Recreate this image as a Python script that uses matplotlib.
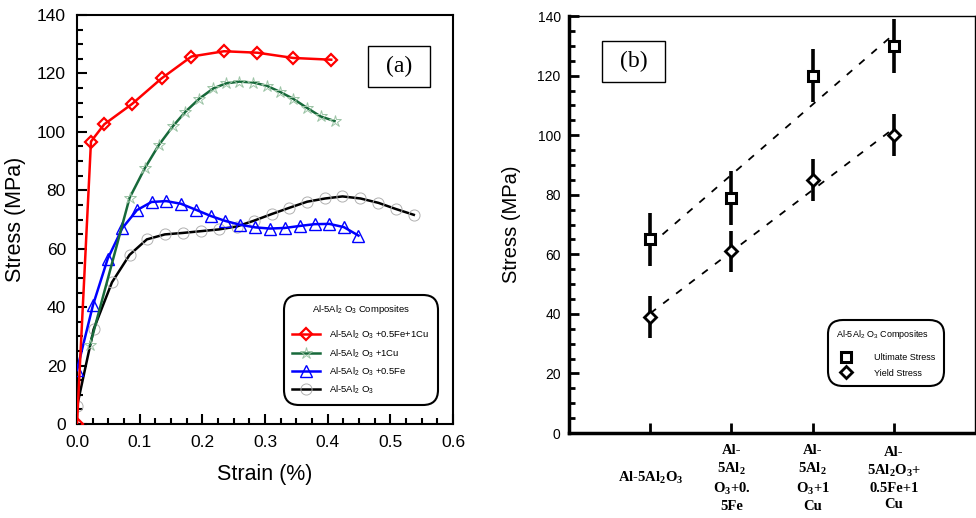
import matplotlib
matplotlib.use("Agg")
import matplotlib.pyplot as plt
from matplotlib.lines import Line2D
from matplotlib.patches import Rectangle
from matplotlib.ticker import MultipleLocator, FormatStrFormatter
import numpy as np

plt.rcParams['font.family'] = ['Liberation Sans', 'DejaVu Sans']
plt.rcParams['mathtext.fontset'] = 'custom'
plt.rcParams['mathtext.rm'] = 'Liberation Sans'
plt.rcParams['mathtext.it'] = 'Liberation Sans'
plt.rcParams['mathtext.bf'] = 'Liberation Serif:bold'

# ---- (a) stress-strain curves ----
red_strain = [0.0, 0.0223, 0.0435, 0.0881, 0.1349, 0.1827, 0.2347, 0.2878, 0.3452, 0.4057]
red_stress = [0.0, 96.7, 102.6, 109.6, 118.3, 125.8, 127.6, 127.1, 125.3, 124.7]

green_strain = [0.0207, 0.0839, 0.1083, 0.1306, 0.1529, 0.1731, 0.1954, 0.2177, 0.2379,
                0.2591, 0.2814, 0.3027, 0.3239, 0.3452, 0.3664, 0.3887, 0.4110]
green_stress = [27.0, 77.4, 87.6, 95.5, 101.9, 106.9, 111.4, 114.9, 116.6,
                117.2, 116.9, 115.8, 113.7, 111.3, 108.3, 105.3, 103.7]

blue_strain = [0.0, 0.0255, 0.0489, 0.0722, 0.0956, 0.1189, 0.1423, 0.1657, 0.1901, 0.2135,
               0.2368, 0.2602, 0.2846, 0.3080, 0.3313, 0.3558, 0.3791, 0.4025, 0.4258, 0.4492]
blue_stress = [18.5, 40.7, 56.5, 67.0, 73.2, 76.0, 76.3, 75.4, 73.3, 71.2,
               69.5, 68.2, 67.3, 66.9, 67.1, 67.8, 68.4, 68.5, 67.4, 64.5]

black_strain = [0.0, 0.0265, 0.0558, 0.0839, 0.1115, 0.1402, 0.1688, 0.1975, 0.2262, 0.2549,
                0.2825, 0.3112, 0.3388, 0.3674, 0.3961, 0.4237, 0.4524, 0.4811, 0.5088, 0.5375]
black_stress = [6.0, 32.4, 48.5, 57.9, 63.2, 64.9, 65.4, 66.0, 66.6, 67.6,
                69.6, 71.9, 74.0, 76.1, 77.2, 77.9, 77.2, 75.7, 73.6, 71.6]

# ---- (b) ultimate / yield stress per composite ----
categories = [r'Al-5Al$_\mathbf{2}$O$_\mathbf{3}$',
              'Al-\n' + r'5Al$_\mathbf{2}$' + '\n' + r'O$_\mathbf{3}$+0.' + '\n5Fe',
              'Al-\n' + r'5Al$_\mathbf{2}$' + '\n' + r'O$_\mathbf{3}$+1' + '\nCu',
              'Al-\n' + r'5Al$_\mathbf{2}$O$_\mathbf{3}$+' + '\n0.5Fe+1\nCu']
cat_pos = [1, 2, 3, 4]
ultimate = [65, 79, 120, 130]
ultimate_err = [9, 9, 9, 9]
yield_s = [39, 61, 85, 100]
yield_err = [7, 7, 7, 7]

fig = plt.figure(figsize=(9.76, 5.18), dpi=100)
ax1 = fig.add_axes([0.0789, 0.1815, 0.3852, 0.7895])
ax2 = fig.add_axes([0.583, 0.164, 0.416, 0.805])

# panel (a)
ax1.plot(black_strain, black_stress, '-', color='black', lw=1.8, marker='o', ms=8,
         mfc='none', mec='#b0b0b0', mew=0.7, label=r'Al-5Al$_2$ O$_3$', zorder=2)
ax1.plot(blue_strain, blue_stress, '-', color='#0000ff', lw=1.8, marker='^', ms=9,
         mfc='none', mec='#0000ff', mew=1.0, label=r'Al-5Al$_2$ O$_3$ +0.5Fe', zorder=3)
ax1.plot(green_strain, green_stress, '-', color='#17693a', lw=1.8, marker='*', ms=9,
         mfc='none', mec='#9cc4a6', mew=0.7, label=r'Al-5Al$_2$ O$_3$ +1Cu', zorder=4)
ax1.plot(red_strain, red_stress, '-', color='#ff0000', lw=1.8, marker='D', ms=6,
         mfc='none', mec='#ff0000', mew=1.6, label=r'Al-5Al$_2$ O$_3$ +0.5Fe+1Cu', zorder=5)

ax1.set_xlim(0, 0.6)
ax1.set_ylim(0, 140)
ax1.xaxis.set_major_locator(MultipleLocator(0.1))
ax1.xaxis.set_minor_locator(MultipleLocator(0.025))
ax1.yaxis.set_major_locator(MultipleLocator(20))
ax1.yaxis.set_minor_locator(MultipleLocator(5))
ax1.xaxis.set_major_formatter(FormatStrFormatter('%.1f'))
ax1.tick_params(which='both', direction='in', top=False, right=False, width=1.5, labelsize=12.5)
ax1.tick_params(which='major', length=7, pad=8)
ax1.tick_params(which='minor', length=4.5)
for s in ax1.spines.values():
    s.set_linewidth(1.5)
ax1.set_xlabel('Strain (%)', fontsize=15.5, labelpad=10)
ax1.set_ylabel('Stress (MPa)', fontsize=15.5, labelpad=8)

h, l = ax1.get_legend_handles_labels()
leg1 = ax1.legend(h[::-1], l[::-1], title=r'Al-5Al$_2$ O$_3$ Composites', fontsize=6.8,
                  title_fontsize=6.8, loc='lower right', bbox_to_anchor=(0.952, 0.054),
                  handlelength=3.0, labelspacing=0.62, borderpad=0.6, handletextpad=0.9,
                  numpoints=1, fancybox=True, framealpha=1, borderaxespad=0)
leg1.get_frame().set_edgecolor('black')
leg1.get_frame().set_linewidth(1.5)
leg1.get_frame().set_boxstyle('round', rounding_size=1.6)
leg1._legend_box.sep = 9

ax1.add_patch(Rectangle((0.774, 0.824), 0.165, 0.100, transform=ax1.transAxes,
                        fill=False, ec='black', lw=1.0, zorder=6))
ax1.text(0.8565, 0.874, '(a)', transform=ax1.transAxes, ha='center', va='center',
         fontsize=17, family='Liberation Serif')

# panel (b)
fit_x = np.array([1.0, 4.0])
pu = np.polyfit(cat_pos, ultimate, 1)
py = np.polyfit(cat_pos, yield_s, 1)
ax2.plot(fit_x, np.polyval(pu, fit_x), color='black', lw=1.3, ls=(0, (4, 5)), zorder=1)
ax2.plot(fit_x, np.polyval(py, fit_x), color='black', lw=1.3, ls=(0, (4, 5)), zorder=1)
ax2.errorbar(cat_pos, ultimate, yerr=ultimate_err, fmt='s', color='black', ms=7,
             mfc='white', mec='black', mew=2.2, elinewidth=2.6, capsize=0, zorder=3)
ax2.errorbar(cat_pos, yield_s, yerr=yield_err, fmt='D', color='black', ms=6.5,
             mfc='white', mec='black', mew=2.0, elinewidth=2.6, capsize=0, zorder=3)

ax2.set_xlim(0, 5)
ax2.set_ylim(0, 140)
ax2.set_xticks(cat_pos)
ax2.set_xticklabels([])
ax2.yaxis.set_major_locator(MultipleLocator(20))
ax2.yaxis.set_minor_locator(MultipleLocator(5))
ax2.tick_params(which='both', direction='in', top=False, right=False, width=2, labelsize=10)
ax2.tick_params(which='major', length=7, pad=6)
ax2.tick_params(which='minor', length=4.5)
ax2.spines['left'].set_linewidth(2.5)
ax2.spines['bottom'].set_linewidth(2.5)
ax2.spines['top'].set_linewidth(1.0)
ax2.spines['right'].set_linewidth(1.0)
ax2.set_ylabel('Stress (MPa)', fontsize=14.5, labelpad=12)

for x, lab in zip(cat_pos, categories):
    ax2.text(x, -0.108, lab, transform=ax2.get_xaxis_transform(), ha='center', va='center',
             multialignment='center', fontsize=10.5, family='Liberation Serif',
             fontweight='bold', linespacing=1.3)

hb = [Line2D([], [], ls='none', marker='s', ms=7, mfc='white', mec='black', mew=2.2),
      Line2D([], [], ls='none', marker='D', ms=6, mfc='white', mec='black', mew=2.0)]
leg2 = ax2.legend(hb, ['Ultimate Stress', 'Yield Stress'], title=r'Al-5Al$_2$ O$_3$ Composites',
                  fontsize=6.5, title_fontsize=6.5, loc='lower right',
                  bbox_to_anchor=(0.916, 0.12), handlelength=2.2, labelspacing=0.7,
                  borderpad=0.6, handletextpad=2.0, numpoints=1, fancybox=True,
                  framealpha=1, borderaxespad=0)
leg2.get_frame().set_edgecolor('black')
leg2.get_frame().set_linewidth(1.5)
leg2.get_frame().set_boxstyle('round', rounding_size=1.6)
leg2._legend_box.sep = 9
leg2._legend_box.align = 'left'

ax2.add_patch(Rectangle((0.081, 0.842), 0.155, 0.098, transform=ax2.transAxes,
                        fill=False, ec='black', lw=1.0, zorder=6))
ax2.text(0.1585, 0.891, '(b)', transform=ax2.transAxes, ha='center', va='center',
         fontsize=17, family='Liberation Serif')

fig.savefig('out.png', dpi=100)
